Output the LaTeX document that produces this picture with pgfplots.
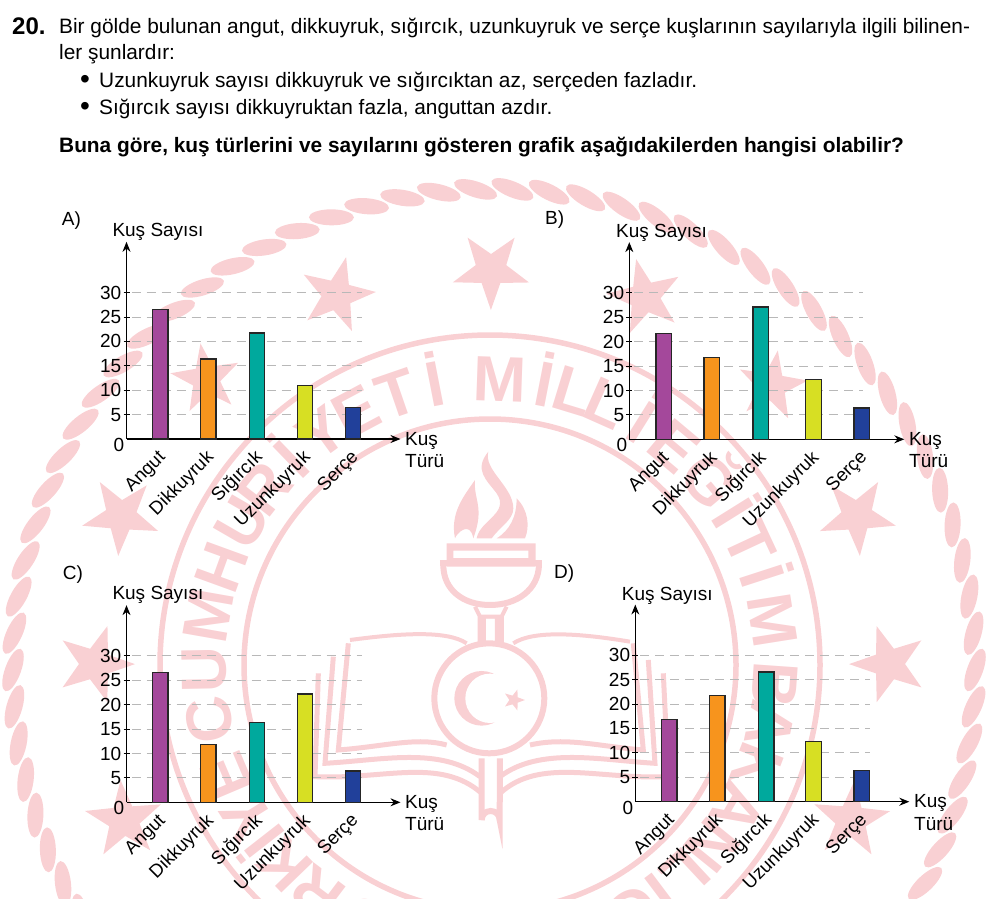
\documentclass[border=0pt]{standalone}
\usepackage{fontspec}
\setmainfont{Liberation Sans}
\usepackage{pgfplots}
\pgfplotsset{compat=1.18}
\usetikzlibrary{shapes.geometric,arrows.meta}
\definecolor{wm}{HTML}{F9D0D3}
\definecolor{cpur}{HTML}{A4489B}
\definecolor{cora}{HTML}{F7941D}
\definecolor{ctea}{HTML}{00A99D}
\definecolor{clim}{HTML}{D7DF23}
\definecolor{cnav}{HTML}{21409A}
\definecolor{cgrd}{HTML}{B8B8B8}
\newcommand{\fs}{\fontsize{19}{21}\selectfont}
\newcommand{\fb}{\fontsize{20.85}{22}\selectfont}
\pgfplotsset{
  kus/.style={
    anchor=south west, x=1pt, y=4.88pt, xmin=0, xmax=274, ymin=0, ymax=40.4,
    axis lines=left, clip=false,
    axis line style={-{Stealth[length=10pt,width=8pt]},line width=1.1pt,black},
    ytick={5,10,15,20,25,30}, tick align=center, major tick length=6pt,
    ytick style={black,line width=1pt}, xtick style={draw=none},
    /pgf/number format/assume math mode=true,
    yticklabel style={font=\fs,inner sep=0pt,xshift=-2pt},
    xticklabels={Angut,Dikkuyruk,Sığırcık,Uzunkuyruk,Serçe},
    xticklabel style={font=\fontsize{18.6}{21}\selectfont,rotate=45,anchor=east,inner sep=0pt,xshift=-7pt,yshift=-11pt},
  },
  gl/.style={cgrd,line width=1pt,dash pattern=on 9pt off 6pt,sharp plot,no marks},
  br/.style={ybar,bar width=15.6pt,bar shift=0pt,draw=black!85,line width=1.3pt,fill=#1},
}
\newcommand{\kusgrid}[1]{%
  \addplot[gl] coordinates {(5,5)(#1,5)};
  \addplot[gl] coordinates {(5,10)(#1,10)};
  \addplot[gl] coordinates {(5,15)(#1,15)};
  \addplot[gl] coordinates {(5,20)(#1,20)};
  \addplot[gl] coordinates {(5,25)(#1,25)};
  \addplot[gl] coordinates {(5,30)(#1,30)};
  \node[font=\fs,inner sep=0pt] at (axis cs:-7.5,-1.2) {0};
}
\begin{document}
\begin{tikzpicture}[x=1pt,y=1pt]
\path[use as bounding box] (0,0) rectangle (995,-898);
% ---- watermark
\begin{scope}
\clip (0,0) rectangle (995,-898);
\foreach \i in {0,...,81}{
  \pgfmathsetmacro{\ang}{\i*4.3902}
  \pgfmathsetmacro{\px}{494+481*cos(\ang)}
  \pgfmathsetmacro{\py}{-670+481*sin(\ang)}
  \fill[wm,shift={(\px,\py)},rotate=\ang-110] (0,0) ellipse [x radius=22.5,y radius=8];
}
\draw[wm,line width=5.5pt] (490,-665) circle [radius=330];
\draw[wm,line width=5.5pt] (490,-665) circle [radius=246];
\foreach \sx/\sy/\sr in {491/270/80,337/295/78,645/297/78,206/379/72,772/386/72,121/516/80,857/516/80,95/664/80,889/664/80,124/820/80,851/820/80}{
  \pgfmathsetmacro{\rot}{atan2(-665+\sy,490-\sx)-90}
  \node[star,star points=5,star point ratio=2.5,fill=wm,draw=none,inner sep=0pt,minimum size=\sr pt,rotate=\rot] at (\sx,-\sy) {};
}
\foreach \lt/\ang in {T/254,Ü/244,R/233,K/224,İ/218,Y/212,E/203,C/191,U/181,M/170,H/160,U/150,R/142,İ/134,Y/126,E/118,T/109,İ/101,M/88,İ/79,L/73,L/66,İ/58,E/50,Ğ/40,İ/32,T/25,İ/18,M/9,B/-4,A/-12,K/-21,A/-30,N/-39,L/-47,I/-53,Ğ/-60,I/-67}{
  \pgfmathsetmacro{\tx}{490+264*cos(\ang)}
  \pgfmathsetmacro{\ty}{-665+264*sin(\ang)}
  \node[anchor=base,inner sep=0pt,text=wm,font=\fontsize{64}{64}\bfseries\selectfont,rotate=\ang-90] at (\tx,\ty) {\lt};
}
% emblem, in the units of a 3x crop at (300,430)
\begin{scope}[shift={(300,-430)},x=0.3333pt,y=-0.3333pt]
  \fill[wm] (520,325) .. controls (510,270) and (470,310) .. (465,325) .. controls (450,250) and (490,200) .. (525,150) .. controls (520,210) and (555,230) .. (520,325) -- cycle;
  \fill[wm] (530,325) .. controls (540,270) and (630,250) .. (590,190) .. controls (560,150) and (520,120) .. (565,65) .. controls (550,120) and (640,170) .. (640,235) .. controls (640,270) and (600,290) .. (575,325) -- cycle;
  \fill[wm] (590,325) .. controls (630,300) and (650,260) .. (650,205) .. controls (685,240) and (690,290) .. (675,325) -- cycle;
  \fill[wm,even odd rule] (440,340) rectangle (707,410) (460,362) rectangle (685,384);
  \draw[wm,line width=6pt] (420,400) -- (725,400);
  \draw[wm,line width=6pt] (430,405) .. controls (430,480) and (490,525) .. (570,525) .. controls (650,525) and (715,480) .. (717,405);
  \draw[wm,line width=4pt] (525,530) -- (540,560) -- (605,560) -- (620,530);
  \fill[wm,even odd rule] (533,560) rectangle (612,640) (558,565) rectangle (585,635);
  \draw[wm,line width=6pt] (568,805) circle [radius=165];
  \fill[wm] (545,805) circle [radius=82];
  \fill[white] (570,805) circle [radius=74];
  \node[star,star points=5,star point ratio=2.4,fill=wm,inner sep=0pt,minimum size=22pt,rotate=-90] at (642,810) {};
  \draw[wm,line width=4pt] (500,640) .. controls (440,600) and (300,610) .. (150,630);
  \draw[wm,line width=4pt] (640,640) .. controls (700,600) and (840,610) .. (990,635);
  \draw[wm,line width=5pt] (145,640) -- (115,960) .. controls (250,950) and (350,920) .. (440,945);
  \draw[wm,line width=5pt] (100,680) -- (75,1000) .. controls (250,990) and (420,950) .. (540,1040);
  \draw[wm,line width=5pt] (55,730) -- (45,1040) .. controls (250,1050) and (420,980) .. (545,1090);
  \draw[wm,line width=5pt] (1000,640) -- (1030,960) .. controls (900,950) and (800,920) .. (690,945);
  \draw[wm,line width=5pt] (1045,690) -- (1065,1000) .. controls (900,990) and (720,950) .. (600,1040);
  \draw[wm,line width=5pt] (1090,730) -- (1105,1040) .. controls (900,1050) and (720,980) .. (600,1090);
  \draw[wm,line width=6pt] (545,985) -- (545,1170) arc (180:360:27) -- (600,985);
\end{scope}
\end{scope}
% ---- text
\node[anchor=base west,inner sep=0pt,font=\fontsize{24}{26}\bfseries\selectfont] at (12,-34) {20.};
\node[anchor=base west,inner sep=0pt,font=\fb] at (59,-33) {Bir gölde bulunan angut, dikkuyruk, sığırcık, uzunkuyruk ve serçe kuşlarının sayılarıyla ilgili bilinen-};
\node[anchor=base west,inner sep=0pt,font=\fb] at (59,-59.5) {ler şunlardır:};
\node[anchor=base west,inner sep=0pt,font=\fontsize{28}{28}\selectfont] at (80,-88) {•};
\node[anchor=base west,inner sep=0pt,font=\fontsize{28}{28}\selectfont] at (80,-115) {•};
\node[anchor=base west,inner sep=0pt,font=\fb] at (99,-87) {Uzunkuyruk sayısı dikkuyruk ve sığırcıktan az, serçeden fazladır.};
\node[anchor=base west,inner sep=0pt,font=\fb] at (99,-114) {Sığırcık sayısı dikkuyruktan fazla, anguttan azdır.};
\node[anchor=base west,inner sep=0pt,font=\fontsize{20.85}{22}\bfseries\selectfont] at (59,-152.5) {Buna göre, kuş türlerini ve sayılarını gösteren grafik aşağıdakilerden hangisi olabilir?};
% ---- panel labels
\foreach \tx/\ty/\lab in {61.7/225/A),545/224/B),62.7/579/C),554/578/D),112.3/236.7/Kuş Sayısı,616/237/Kuş Sayısı,112.3/599.3/Kuş Sayısı,621.7/600/Kuş Sayısı,405/445/Kuş,405/467.7/Türü,909/445/Kuş,909/467.7/Türü,405/808/Kuş,405/830.7/Türü,914/807.7/Kuş,914/830/Türü}{
  \node[anchor=base west,inner sep=0pt,font=\fs] at (\tx,-\ty) {\lab};
}
% ---- A
\begin{axis}[kus,at={(126.5pt,-439pt)},xtick={33.8,81.8,130.5,178.5,226.5}]
\kusgrid{235}
\addplot[br=cpur] coordinates {(33.8,26.6)};
\addplot[br=cora] coordinates {(81.8,16.4)};
\addplot[br=ctea] coordinates {(130.5,21.7)};
\addplot[br=clim] coordinates {(178.5,11.0)};
\addplot[br=cnav] coordinates {(226.5,6.4)};
\end{axis}
% ---- B
\begin{axis}[kus,at={(629.3pt,-439.3pt)},xmax=275,xtick={34.5,82.5,131.5,184.2,232.4}]
\kusgrid{234}
\addplot[br=cpur] coordinates {(34.5,21.7)};
\addplot[br=cora] coordinates {(82.5,16.8)};
\addplot[br=ctea] coordinates {(131.5,27.1)};
\addplot[br=clim] coordinates {(184.2,12.3)};
\addplot[br=cnav] coordinates {(232.4,6.4)};
\end{axis}
% ---- C
\begin{axis}[kus,at={(126.5pt,-802.3pt)},xtick={33.8,81.8,130.5,178.5,226.5}]
\kusgrid{235}
\addplot[br=cpur] coordinates {(33.8,26.6)};
\addplot[br=cora] coordinates {(81.8,11.8)};
\addplot[br=ctea] coordinates {(130.5,16.4)};
\addplot[br=clim] coordinates {(178.5,22.2)};
\addplot[br=cnav] coordinates {(226.5,6.4)};
\end{axis}
% ---- D
\begin{axis}[kus,at={(635.3pt,-801.7pt)},xtick={33.9,82,130.9,178.2,226.4}]
\kusgrid{235}
\addplot[br=cpur] coordinates {(33.9,16.8)};
\addplot[br=cora] coordinates {(82,21.8)};
\addplot[br=ctea] coordinates {(130.9,26.6)};
\addplot[br=clim] coordinates {(178.2,12.3)};
\addplot[br=cnav] coordinates {(226.4,6.4)};
\end{axis}
\end{tikzpicture}
\end{document}
